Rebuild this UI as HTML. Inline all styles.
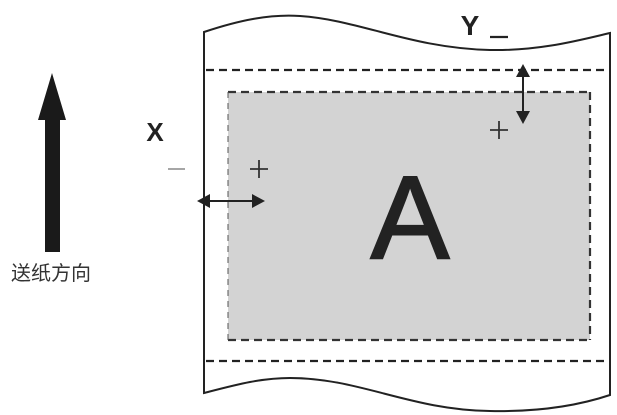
<!DOCTYPE html>
<html><head><meta charset="utf-8"><style>body{margin:0;background:#fff}svg{display:block}</style></head><body>
<svg width="617" height="415" viewBox="0 0 617 415" xmlns="http://www.w3.org/2000/svg" font-family="Liberation Sans, Noto Sans CJK SC, sans-serif">
<path d="M204,32 C240,20 270,14 300,16 C360,20 410,48 490,50 C540,51 580,40 610,33 L610,395 C580,405 540,412 490,411 C410,410 360,378 290,378 C260,378 235,385 204,393 Z" fill="#fff" stroke="#222" stroke-width="2"/>
<line x1="206" y1="70" x2="608" y2="70" stroke="#222" stroke-width="2.2" stroke-dasharray="8,5"/>
<line x1="206" y1="361" x2="608" y2="361" stroke="#222" stroke-width="2.2" stroke-dasharray="8,5"/>
<rect x="228" y="92" width="362" height="248" fill="#d3d3d3"/>
<line x1="228" y1="92" x2="590" y2="92" stroke="#333" stroke-width="2.2" stroke-dasharray="8,5"/>
<line x1="228" y1="340" x2="590" y2="340" stroke="#333" stroke-width="2.2" stroke-dasharray="8,5"/>
<line x1="590" y1="92" x2="590" y2="340" stroke="#333" stroke-width="2.2" stroke-dasharray="8,5"/>
<line x1="228" y1="92" x2="228" y2="340" stroke="#555" stroke-width="1" stroke-dasharray="6,5"/>
<text x="410" y="258" font-size="118" text-anchor="middle" fill="#222" stroke="#222" stroke-width="2">A</text>
<polygon points="52,73 66,120 60,120 60,252 45,252 45,120 38,120" fill="#1a1a1a"/>
<text x="51" y="280" font-size="20" text-anchor="middle" fill="#333">送纸方向</text>
<text x="155" y="141" font-size="26" font-weight="bold" text-anchor="middle" fill="#222">X</text>
<line x1="168" y1="169" x2="185" y2="169" stroke="#888" stroke-width="1.5"/>
<line x1="250" y1="169" x2="268" y2="169" stroke="#333" stroke-width="1.8"/>
<line x1="259" y1="160" x2="259" y2="178" stroke="#333" stroke-width="1.8"/>
<line x1="205" y1="201" x2="256" y2="201" stroke="#222" stroke-width="2"/>
<polygon points="197,201 210,194 210,208" fill="#222"/>
<polygon points="265,201 252,194 252,208" fill="#222"/>
<text x="470" y="35" font-size="28" font-weight="bold" text-anchor="middle" fill="#222">Y</text>
<line x1="490" y1="37" x2="508" y2="37" stroke="#222" stroke-width="2.2"/>
<line x1="523" y1="72" x2="523" y2="116" stroke="#222" stroke-width="2"/>
<polygon points="523,64 516,77 530,77" fill="#222"/>
<polygon points="523,124 516,111 530,111" fill="#222"/>
<line x1="490" y1="130" x2="508" y2="130" stroke="#333" stroke-width="1.8"/>
<line x1="499" y1="121" x2="499" y2="139" stroke="#333" stroke-width="1.8"/>
</svg>
</body></html>
